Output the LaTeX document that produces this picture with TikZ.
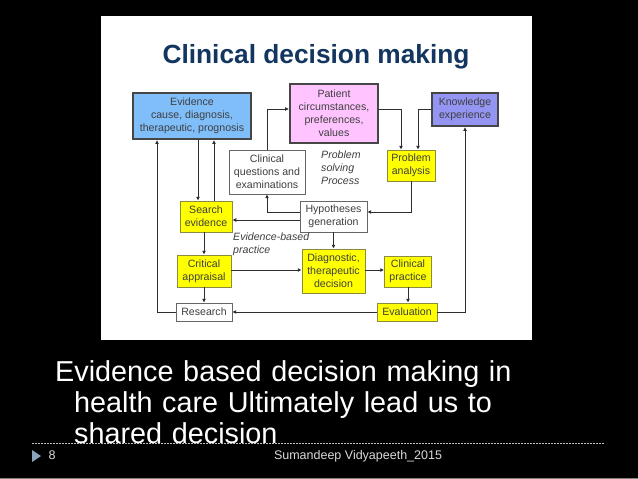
\documentclass[tikz,border=0pt]{standalone}
\usepackage{fontspec}
\setmainfont{Liberation Sans}
\usetikzlibrary{arrows.meta}
\definecolor{inkc}{HTML}{3F3F3F}
\definecolor{linec}{HTML}{2E2E2E}
\definecolor{titlec}{HTML}{12365F}
\definecolor{evc}{HTML}{80BEFA}
\definecolor{pac}{HTML}{FFC4FF}
\definecolor{knc}{HTML}{9494F2}
\definecolor{yec}{HTML}{FFFF00}
\definecolor{ybc}{HTML}{8A8A40}
\definecolor{tric}{HTML}{8CA3BC}
\tikzset{
  box/.style={draw=#1,inner sep=0pt,align=center,text=inkc,font=\fontsize{10.6}{13}\selectfont},
  whitebox/.style={box=gray!80!black,fill=white,line width=0.8pt},
  yellowbox/.style={box=ybc,fill=yec,line width=0.9pt},
  bigbox/.style={box=gray!55!black,line width=2.2pt},
  note/.style={inner sep=0pt,align=left,text=inkc,font=\fontsize{10.6}{13}\selectfont\itshape},
  arr/.style={draw=linec,line width=1pt,-{Latex[length=3.8pt,width=4pt]}},
  slide/.style={inner sep=0pt,text=white}
}
\begin{document}
\begin{tikzpicture}[x=1pt,y=-1pt]
\fill[black,use as bounding box] (0,0) rectangle (638,479);
\fill[white] (101,16) rectangle (532,340);
\draw[gray,line width=1pt] (0,478.5) -- (638,478.5);
\node[anchor=base,inner sep=0pt,text=titlec,font=\fontsize{26.3}{28}\selectfont\bfseries] (title) at (316,63) {Clinical decision making};
% boxes
\node[bigbox,fill=evc,minimum width=118pt,minimum height=46pt] (ev) at (192,116) {Evidence\\cause, diagnosis,\\therapeutic, prognosis};
\node[bigbox,fill=pac,minimum width=88pt,minimum height=59pt] (pa) at (334,113.5) {Patient\\circumstances,\\preferences,\\values};
\node[bigbox,fill=knc,minimum width=66pt,minimum height=33pt] (kn) at (465,109.5) {Knowledge\\experience};
\node[whitebox,minimum width=76pt,minimum height=44pt] (cq) at (267,172) {Clinical\\questions and\\examinations};
\node[yellowbox,minimum width=48pt,minimum height=31pt] (pr) at (411,165.5) {Problem\\analysis};
\node[yellowbox,minimum width=52pt,minimum height=31pt] (se) at (206,216.5) {Search\\evidence};
\node[whitebox,minimum width=67pt,minimum height=31pt] (hy) at (333.5,216.5) {Hypotheses\\generation};
\node[yellowbox,minimum width=54pt,minimum height=32pt] (cr) at (204,271) {Critical\\appraisal};
\node[yellowbox,minimum width=63pt,minimum height=44pt] (di) at (333.5,271) {Diagnostic,\\therapeutic\\decision};
\node[yellowbox,minimum width=47pt,minimum height=31pt] (cl) at (408,271.5) {Clinical\\practice};
\node[whitebox,minimum width=56pt,minimum height=18pt] (re) at (204,312) {Research};
\node[yellowbox,minimum width=60pt,minimum height=18pt] (ee) at (407,312) {Evaluation};
% notes
\node[note,anchor=north west] (ps) at (321,151) {Problem\\solving\\Process};
\node[note,anchor=north west] (eb) at (233,232.5) {Evidence-based\\practice};
% connectors
\draw[arr] (re.west) -| ([xshift=-35pt]ev.south);
\draw[arr] ([xshift=6pt]ev.south) -- ([xshift=-8pt]se.north);
\draw[arr] ([xshift=8pt]se.north) -- ([xshift=22pt]ev.south);
\draw[arr] (cq.north) |- ([yshift=4.5pt]pa.west);
\draw[arr] ([yshift=4.5pt]pa.east) -| ([xshift=-10pt]pr.north);
\draw[arr] ([yshift=0.5pt]kn.west) -| ([xshift=7pt]pr.north);
\draw[arr] (ee.east) -| (kn.south);
\draw[arr] (pr.south) |- ([yshift=4.5pt]hy.east);
\draw[arr] ([yshift=4.5pt]hy.west) -| (cq.south);
\draw[arr] ([yshift=-3.5pt]hy.west) -- ([yshift=-3.5pt]se.east);
\draw[arr] ([xshift=-2pt]se.south) -- (cr.north);
\draw[arr] (hy.south) -- (di.north);
\draw[arr] ([yshift=1pt]cr.east) -- ([yshift=1pt]di.west);
\draw[arr] ([yshift=1pt]di.east) -- ([yshift=1.5pt]cl.west);
\draw[arr] (cl.south) -- ([xshift=1pt]ee.north);
\draw[arr] (cr.south) -- (re.north);
\draw[arr] (ee.west) -- (re.east);
% slide text
\node[slide,anchor=north west,text width=500pt,align=left,font=\fontsize{28.8}{31}\selectfont] (body) at (55,360) {Evidence based decision making in\\\hspace*{19pt}health care Ultimately lead us to\\\hspace*{19pt}shared decision};
\draw[white!75!black,line width=0.7pt,dash pattern=on 1.5pt off 1.5pt] (32,443.5) -- (605,443.5);
\fill[tric] (32,450) -- (41,456) -- (32,462) -- cycle;
\node[slide,anchor=base,text=white!85!black,font=\fontsize{12.5}{15}\selectfont] (num) at (52,459) {8};
\node[slide,anchor=base,text=white!85!black,font=\fontsize{12.5}{15}\selectfont] (foot) at (358,459) {Sumandeep Vidyapeeth\_2015};
\end{tikzpicture}
\end{document}
